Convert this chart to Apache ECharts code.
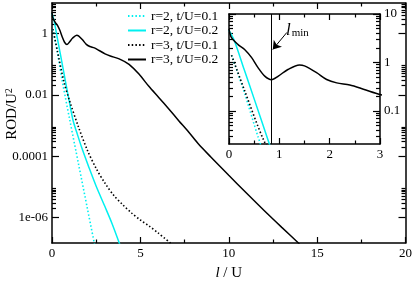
<!DOCTYPE html>
<html><head><meta charset="utf-8">
<script src="https://cdn.jsdelivr.net/npm/echarts@6/dist/echarts.min.js"></script>
<style>html,body{margin:0;padding:0;background:#fff}#c{width:415px;height:286px}</style>
</head><body><div id="c"></div>
<script>
// ---- data ----
const seriesNames = ['r=2, t/U=0.1', 'r=2, t/U=0.2', 'r=3, t/U=0.1', 'r=3, t/U=0.2'];

const l_r2t1   = [0.05, 0.3, 0.58, 1.0, 1.5, 2.0, 2.45];
const rod_r2t1 = [1.41, 0.251, 0.0288, 1.58e-3, 5.62e-5, 2.0e-6, 1.0e-7];

const l_r2t2   = [0, 0.11, 0.3, 0.5, 0.78, 1.0, 1.2, 1.4, 1.7, 2.1, 2.5, 3.0, 3.4, 3.85];
const rod_r2t2 = [4.57, 2.75, 0.724, 0.178, 0.0245, 5.25e-3, 1.41e-3, 6.03e-4, 1.78e-4, 4.17e-5, 1.05e-5, 2.24e-6, 6.31e-7, 1.26e-7];

const l_r3t1   = [0.05, 0.3, 0.68, 1.0, 1.5, 2.0, 2.5, 3.0, 3.5, 4.0, 4.5, 5.0, 5.5, 6.0, 6.8];
const rod_r3t1 = [1.41, 0.282, 0.0263, 6.31e-3, 8.91e-4, 1.58e-4, 3.98e-5, 1.32e-5, 5.25e-6, 2.63e-6, 1.41e-6, 8.32e-7, 5.25e-7, 3.16e-7, 1.32e-7];

const l_r3t2   = [0, 0.05, 0.18, 0.31, 0.45, 0.58, 0.71, 0.845, 0.98, 1.17, 1.4, 1.5, 1.74, 1.94, 2.14, 2.4, 2.67, 3.0, 3.3, 3.8, 4.36, 4.92, 5.48, 6.05, 6.61, 7.17, 7.73, 8.3, 9, 10, 11, 12, 13, 14];
const rod_r3t2 = [4.90, 3.24, 2.34, 1.86, 1.26, 0.776, 0.525, 0.442, 0.525, 0.718, 0.891, 0.851, 0.617, 0.447, 0.380, 0.343, 0.282, 0.219, 0.186, 0.151, 0.100, 0.0479, 0.0191, 8.13e-3, 3.47e-3, 1.45e-3, 6.17e-4, 2.45e-4, 9.33e-5, 2.40e-5, 6.31e-6, 1.70e-6, 4.79e-7, 1.38e-7];

const mainXTicks = [0, 5, 10, 15, 20];
const mainYTicks = [1e-6, 1e-4, 1e-2, 1];
const mainYLabels = ['1e-06', '0.0001', '0.01', '1'];
const insetXTicks = [0, 1, 2, 3];
const insetYTicks = [0.1, 1, 10];
const insetYLabels = ['0.1', '1', '10'];
const lMin = 0.845;

// ---- helpers ----
const FONT = 'Liberation Serif';
const L = Math.log10;
const lists = [[l_r2t1, rod_r2t1], [l_r2t2, rod_r2t2], [l_r3t1, rod_r3t1], [l_r3t2, rod_r3t2]];
const colors = ['#00f0f0', '#00f0f0', '#000000', '#000000'];
const dashes = [[1.5, 2.2], 'solid', [1.5, 2.2], 'solid'];
const widths = [1.6, 1.5, 1.6, 1.5];

const mainYMin = -6.83, mainYMax = 1.0;
const insetYMin = -1.68, insetYMax = 1.0;

const mainMinor = [];
mainYTicks.forEach(m => { for (let k = 2; k <= 9; k++) { const v = L(k * m); if (v < mainYMax) mainMinor.push(v); } });
const insetMinor = [];
[0.01, 0.1, 1].forEach(m => { for (let k = 2; k <= 9; k++) { const v = L(k * m); if (v > insetYMin && v < insetYMax) insetMinor.push(v); } });

const labelMap = {}; mainYTicks.forEach((t, i) => labelMap[L(t).toFixed(3)] = mainYLabels[i]);
const insetMap = {}; insetYTicks.forEach((t, i) => insetMap[L(t).toFixed(3)] = insetYLabels[i]);

const lineAx = { show: true, onZero: false, lineStyle: { color: '#000', width: 1.5 } };
function xAx(grid, pos, min, max, interval, showLabel, nameOpts) {
  return Object.assign({
    type: 'value', gridIndex: grid, position: pos, min, max, interval,
    axisLine: lineAx,
    axisTick: { show: true, inside: true, length: 6, lineStyle: { color: '#000', width: 1.2 } },
    minorTick: { show: true, splitNumber: 2, length: 3.5, lineStyle: { color: '#000', width: 1.2 } },
    axisLabel: { show: showLabel, margin: 4, color: '#000', fontFamily: FONT, fontSize: 13 },
    splitLine: { show: false }, minorSplitLine: { show: false }
  }, nameOpts || {});
}
function yAx(grid, pos, min, max, ticks, len, showLine, labelVals, fmt) {
  return {
    type: 'value', gridIndex: grid, position: pos, min, max,
    axisLine: showLine ? lineAx : { show: false, onZero: false },
    axisTick: { show: true, inside: true, length: len, customValues: ticks, lineStyle: { color: '#000', width: 1.2 } },
    axisLabel: labelVals ? { show: true, customValues: labelVals, margin: 4, color: '#000', fontFamily: FONT, fontSize: 13, formatter: fmt } : { show: false },
    splitLine: { show: false }
  };
}

const mainMajor = mainYTicks.map(L);
const insetMajor = insetYTicks.map(L);

const series = [];
lists.forEach((p, i) => {
  const data = p[0].map((x, j) => [x, L(p[1][j])]);
  const base = {
    type: 'line', name: seriesNames[i], data, showSymbol: false, symbol: 'none', smooth: 0.3, clip: true,
    lineStyle: { color: colors[i], width: widths[i], type: dashes[i] }, itemStyle: { color: colors[i] }, z: 3
  };
  series.push(Object.assign({}, base, { xAxisIndex: 0, yAxisIndex: 0 }));
  const ins = Object.assign({}, base, { xAxisIndex: 2, yAxisIndex: 4, z: 5 });
  if (i === 3) {
    ins.markLine = {
      silent: true, symbol: ['none', 'none'], animation: false,
      label: { show: false },
      lineStyle: { color: '#000', width: 1, type: 'solid' },
      data: [
        { xAxis: lMin },
        [{ coord: [1.15, 0.62], symbol: 'none' }, { coord: [0.87, 0.27], symbol: 'arrow', symbolSize: 8 }]
      ]
    };
    ins.markPoint = {
      silent: true, symbol: 'rect', symbolSize: 1, itemStyle: { color: 'rgba(0,0,0,0)' },
      label: {
        show: true, position: 'inside', formatter: '{i|l}{s|min}',
        rich: {
          i: { fontFamily: FONT, fontStyle: 'italic', fontSize: 17, color: '#000' },
          s: { fontFamily: FONT, fontSize: 11, color: '#000', verticalAlign: 'bottom', padding: [0, 0, 0, 1] }
        }
      },
      data: [{ coord: [1.36, 0.66] }]
    };
  }
  series.push(ins);
});

const option = {
  animation: false,
  backgroundColor: '#fff',
  legend: {
    orient: 'vertical', left: 122, top: 4, itemWidth: 18, itemHeight: 10, itemGap: 0.5,
    data: seriesNames,
    itemStyle: { opacity: 0, borderWidth: 0 },
    textStyle: { fontFamily: FONT, fontSize: 13.5, color: '#000', lineHeight: 14 }
  },
  grid: [
    { left: 52, top: 3, right: 7, bottom: 35 },
    { left: 229, top: 14, right: 35, bottom: 142, show: true, backgroundColor: '#fff', borderWidth: 0 }
  ],
  xAxis: [
    xAx(0, 'bottom', mainXTicks[0], mainXTicks[mainXTicks.length - 1], 5, true, {
      name: '{i|l} / U', nameLocation: 'middle', nameGap: 23,
      nameTextStyle: { fontFamily: FONT, fontSize: 15, color: '#000', rich: { i: { fontFamily: FONT, fontStyle: 'italic', fontSize: 15, color: '#000' } } }
    }),
    xAx(0, 'top', 0, 20, 5, false),
    xAx(1, 'bottom', insetXTicks[0], insetXTicks[insetXTicks.length - 1], 1, true),
    xAx(1, 'top', 0, 3, 1, false)
  ],
  yAxis: [
    yAx(0, 'left', mainYMin, mainYMax, mainMajor, 7, true, mainMajor, v => labelMap[v.toFixed(3)] || ''),
    yAx(0, 'left', mainYMin, mainYMax, mainMinor, 4, false),
    yAx(0, 'right', mainYMin, mainYMax, mainMajor, 7, true),
    yAx(0, 'right', mainYMin, mainYMax, mainMinor, 4, false),
    yAx(1, 'left', insetYMin, insetYMax, insetMajor, 7, true),
    yAx(1, 'left', insetYMin, insetYMax, insetMinor, 4, false),
    yAx(1, 'right', insetYMin, insetYMax, insetMajor, 7, true, insetMajor, v => insetMap[v.toFixed(3)] || ''),
    yAx(1, 'right', insetYMin, insetYMax, insetMinor, 4, false)
  ],
  graphic: [{
    type: 'text', x: 12, y: 114, rotation: Math.PI / 2,
    style: {
      text: '{a|ROD/U}{b|2}', align: 'center', verticalAlign: 'middle',
      fontFamily: FONT, fontSize: 15, fill: '#000',
      rich: {
        a: { font: '15px "Liberation Serif"', fontFamily: FONT, fontSize: 15, fill: '#000' },
        b: { font: '10px "Liberation Serif"', fontFamily: FONT, fontSize: 10, fill: '#000', verticalAlign: 'top' }
      }
    }
  }],
  series
};
const chart = echarts.init(document.getElementById('c'), null, { renderer: 'canvas' });
chart.setOption(option);
</script></body></html>
